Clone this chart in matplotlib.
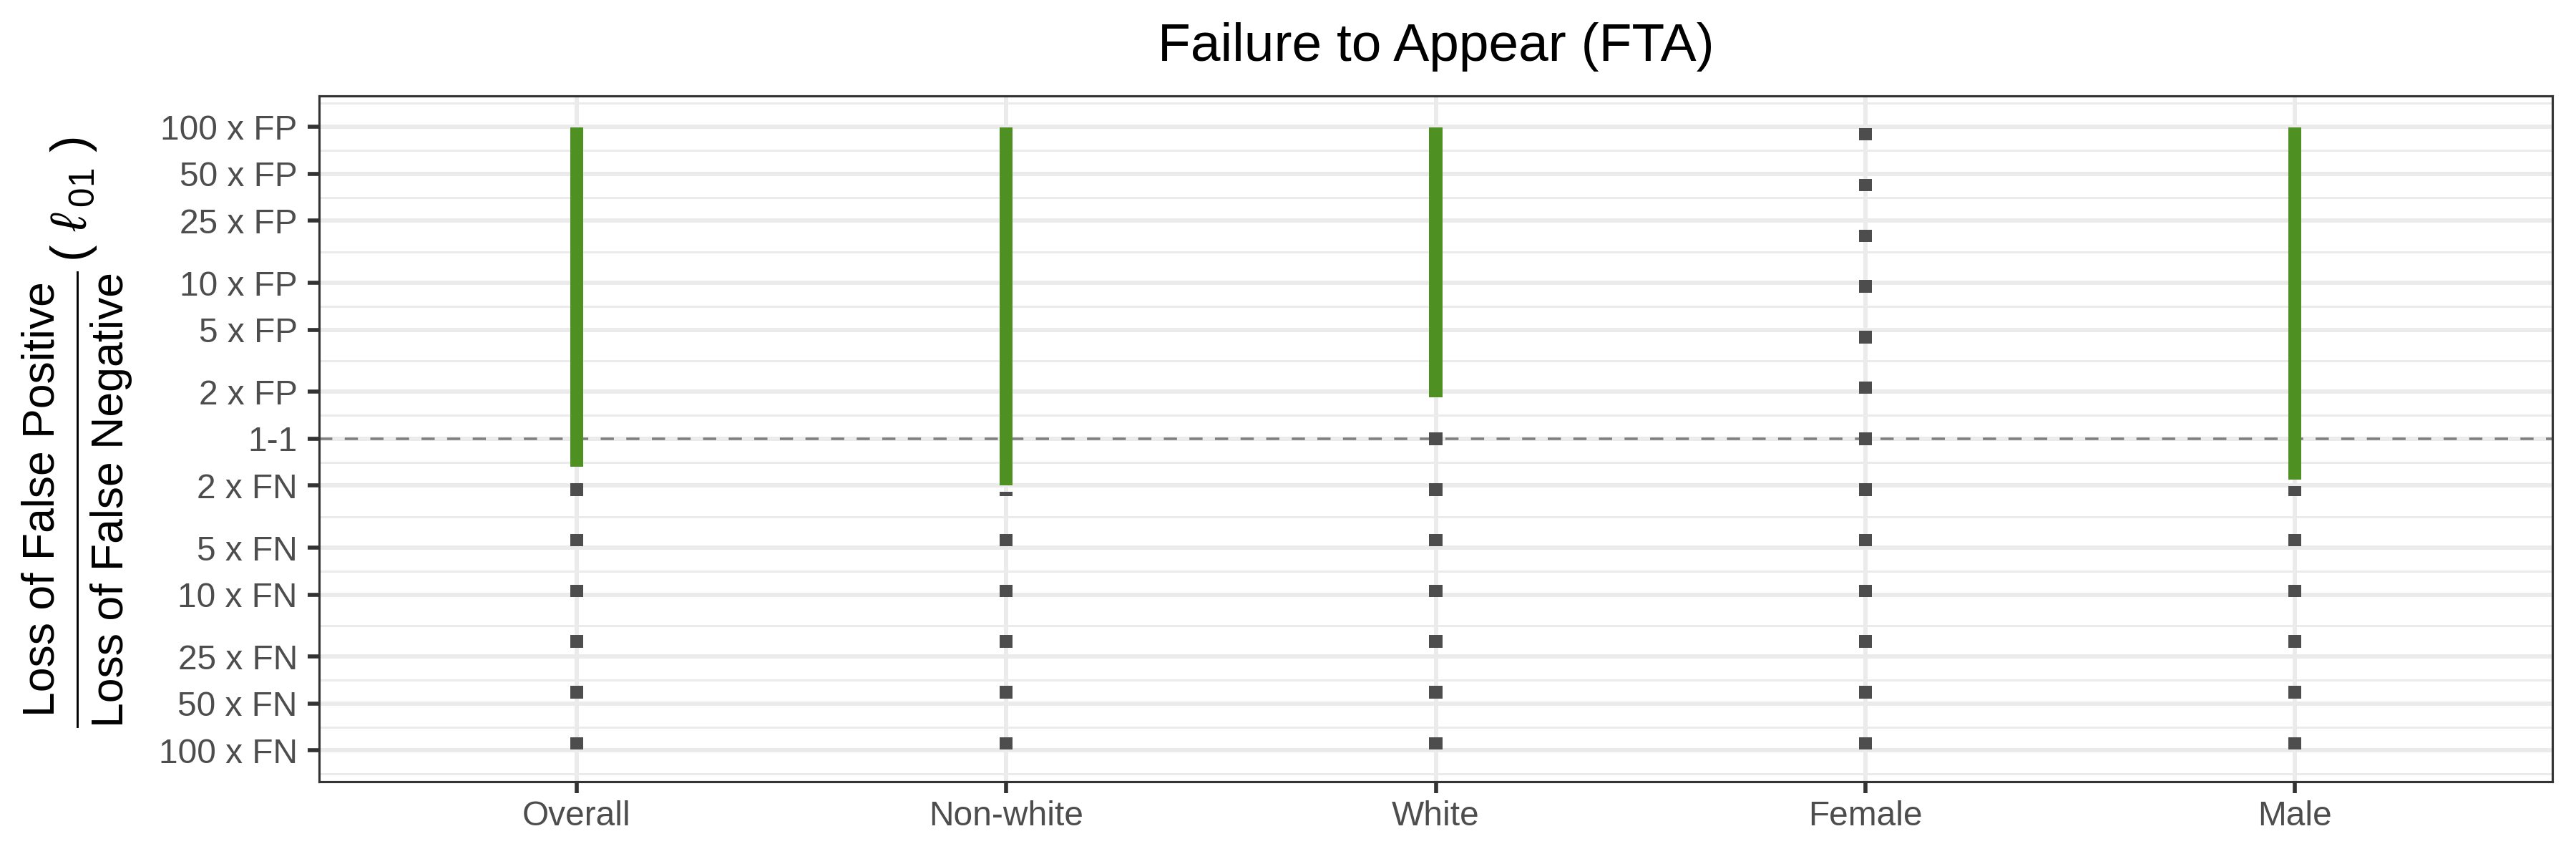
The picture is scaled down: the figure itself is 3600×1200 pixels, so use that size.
import matplotlib
matplotlib.use('Agg')
import matplotlib.pyplot as plt
from matplotlib.ticker import FixedLocator, NullFormatter
from matplotlib.lines import Line2D
import numpy as np

plt.rcParams['font.family'] = ['Liberation Sans', 'DejaVu Sans']
plt.rcParams['mathtext.fontset'] = 'custom'
plt.rcParams['mathtext.rm'] = 'Liberation Sans'
plt.rcParams['mathtext.it'] = 'Liberation Sans:italic'
plt.rcParams['mathtext.bf'] = 'Liberation Sans:bold'

# data
groups = ['Overall', 'Non-white', 'White', 'Female', 'Male']
green_lo = [0.658, 0.50, 1.84, np.nan, 0.547]
green_hi = [99, 99, 99, np.nan, 99]
grid_ratios = [89.9, 42.3, 20.0, 9.47, 4.48, 2.12, 1.0,
               0.4717, 0.2232, 0.1056, 0.05, 0.02364, 0.01112]

tick_vals = [100, 50, 25, 10, 5, 2, 1, 0.5, 0.2, 0.1, 0.04, 0.02, 0.01]
tick_labs = ['100 x FP', '50 x FP', '25 x FP', '10 x FP', '5 x FP', '2 x FP', '1-1',
             '2 x FN', '5 x FN', '10 x FN', '25 x FN', '50 x FN', '100 x FN']

green = '#4E9021'
grey = '#4D4D4D'
pad = 10 ** 0.04      # half height of a tile (log space)
w = 0.03

fig = plt.figure(figsize=(12, 4), dpi=300)
ax = fig.add_axes([446/3600, 1-1092/1200, (3567-446)/3600, (1092-133.7)/1200])
ax.set_yscale('log')

x = np.arange(1, len(groups) + 1)

ax.axhline(1, color='#7F7F7F', lw=0.85, dashes=(5.2, 4.9), zorder=1)

for xi, lo, hi in zip(x, green_lo, green_hi):
    if not np.isnan(lo):
        ax.bar(xi, hi - lo, bottom=lo, width=w, color=green, lw=0, zorder=3)
    for r in grid_ratios:
        if np.isnan(lo) or r < lo:
            top = r * pad
            if not np.isnan(lo):
                top = min(top, lo / pad)
            bot = r / pad
            ax.bar(xi, top - bot, bottom=bot, width=w, color=grey, lw=0, zorder=3)

ax.set_xlim(0.4, 5.6)
ax.set_ylim(10 ** -2.2, 10 ** 2.2)
ax.set_xticks(x)
ax.set_xticklabels(groups)
ax.set_yticks(tick_vals)
ax.set_yticklabels(tick_labs)

lt = np.log10(tick_vals)
minor = list((lt[:-1] + lt[1:]) / 2) + [lt[0] + (lt[0] - lt[1]) / 2, lt[-1] - (lt[-2] - lt[-1]) / 2]
ax.yaxis.set_minor_locator(FixedLocator(10 ** np.array(minor)))
ax.yaxis.set_minor_formatter(NullFormatter())
ax.xaxis.set_minor_locator(FixedLocator([]))

ax.tick_params(axis='both', which='major', length=3.85, width=1.35, color='#333333',
               labelcolor='#4D4D4D', labelsize=11.5)
ax.tick_params(axis='y', which='major', pad=3.4)
ax.tick_params(axis='x', which='major', pad=2.4)
ax.tick_params(which='minor', length=0)
ax.set_axisbelow(True)
ax.grid(which='major', color='#EBEBEB', lw=1.42, zorder=0)
ax.grid(which='minor', axis='y', color='#EBEBEB', lw=0.71, zorder=0)
for s in ax.spines.values():
    s.set_color('#333333')
    s.set_linewidth(0.75)
    s.set_zorder(4)

ax.set_title('Failure to Appear (FTA)', fontsize=18, pad=11.7, color='black')

# y label: fraction built by hand
fy = 1 - 697.5/1200
fig.text(76/3600, fy, 'Loss of False Positive', rotation=90, rotation_mode='anchor',
         ha='center', va='baseline', fontsize=15, color='black')
fig.text(172/3600, fy, 'Loss of False Negative', rotation=90, rotation_mode='anchor',
         ha='center', va='baseline', fontsize=15, color='black')
fig.add_artist(Line2D([108/3600, 108/3600], [1-380/1200, 1-1015/1200], color='black', lw=0.7))
fig.text(103.5/3600, 1-278.5/1200, r'$(\ \ell\/{}_{01}\ )$', rotation=90,
         ha='center', va='center', fontsize=17, color='black')

fig.savefig('out.png', dpi=300)
